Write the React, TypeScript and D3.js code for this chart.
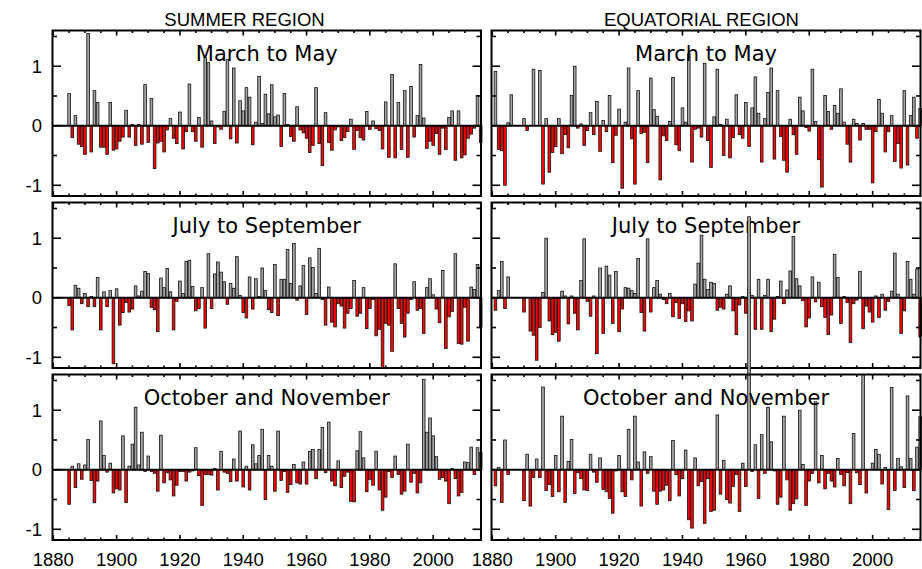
import React from 'react';
import * as d3 from 'd3';

// ---------- data ----------
const LEFT_START = 1885; // SUMMER REGION series start year (ends 2015)
const RIGHT_START = 1881; // EQUATORIAL REGION series start year (ends 2015)

const columnTitles = ['SUMMER REGION', 'EQUATORIAL REGION'];
const seasonTitles = ['March to May', 'July to September', 'October and November'];
const xTickLabels = [1880, 1900, 1920, 1940, 1960, 1980, 2000];
const yTickLabels = [-1, 0, 1];

const summerMAM: (number | null)[] = [
  0.54, -0.2, 0.17, -0.31, -0.35, -0.48, 1.55, -0.44, 0.59, 0.39,
  -0.36, -0.36, -0.48, 0.39, -0.41, -0.39, -0.26, -0.19, 0.26, -0.19,
  0.02, -0.33, 0.02, -0.31, 0.69, -0.28, 0.46, -0.72, -0.29, -0.26,
  -0.44, -0.07, 0.12, -0.21, -0.3, 0.23, -0.39, -0.1, 0.7, -0.1,
  -0.26, 0.14, -0.36, 1.14, 1.06, 0.08, -0.3, -0.02, -0.06, 0.24,
  1.11, -0.22, 0.97, -0.29, 0.42, 0.25, 0.64, 0.48, -0.32, 0.06,
  0.83, 0.04, 0.53, 0.2,
  0.69, 0.15, 0.18, -0.35, 0.54, 0.02, -0.18, -0.26, 0.32, -0.07,
  -0.12, -0.21, -0.45, -0.33, 0.64, -0.3, -0.67, 0.22, -0.28, -0.41,
  -0.07, -0.02, -0.25, -0.2, -0.1, 0.11, -0.4, -0.08, -0.2, -0.24,
  0.24, -0.06, 0.08, -0.05, -0.08, -0.39, 0.4, -0.53, 0.86, -0.54,
  0.39, -0.4, 0.59, -0.53, 0.66, -0.19, 0.17, 1.03, 0.13, -0.38,
  -0.26, -0.33, -0.13, -0.48, -0.04, -0.4, 0.14, 0.25, -0.58, 0.25,
  -0.54, -0.49, -0.21, -0.14, -0.04, 0.51, -0.28,
];

const summerJAS: (number | null)[] = [
  -0.13, -0.54, 0.21, 0.16, -0.1, 0.07, -0.15, 0.02, -0.15, 0.34,
  -0.54, 0.1, -0.15, 0.12, -1.11, 0.15, -0.46, -0.25, -0.08, -0.24,
  -0.19, 0.2, 0.03, 0.11, 0.44, 0.41, -0.16, -0.2, -0.57, 0.33,
  0.17, 0.49, 0.1, -0.54, -0.06, 0.28, 0.07, 0.61, 0.63, 0.19,
  -0.22, -0.18, 0.17, -0.51, 0.74, -0.18, 0.4, 0.6, 0.43, 0.27,
  -0.11, 0.24, 0.16, 0.69, 0.04, -0.25, -0.34, 0.35, -0.19, 0.32,
  0.02, 0.5, 0.12, -0.2,
  -0.25, 0.56, -0.3, 0.31, 0.31, 0.81, 0.24, 0.91, -0.04, 0.2,
  0.54, -0.28, 0.67, 0.51, 0.07, 0.83, -0.03, -0.46, 0.18, -0.41,
  -0.49, -0.1, -0.14, -0.51, -0.26, -0.18, 0.29, -0.31, -0.26, 0.17,
  -0.52, -0.18, -0.03, -0.64, -0.53, -1.18, -0.43, -0.46, -0.9, 0.57,
  -0.18, -0.43, -0.66, -0.26, -0.03, 0.27, -0.21, -0.18, -0.6, 0.17,
  0.32, 0.05, -0.19, -0.42, 0.46, -0.85, -0.32, -0.23, 0.74, -0.77,
  -0.78, -0.16, -0.73, 0.18, 0.14, 0.56, -0.49,
];

const summerON: (number | null)[] = [
  -0.58, 0.06, -0.3, 0.1, -0.16, 0.08, 0.51, -0.18, -0.55, -0.19,
  0.82, 0.24, -0.04, 0.11, -0.39, -0.32, -0.34, 0.57, -0.55, 0.06,
  0.43, 1.05, 0.08, 0.63, -0.03, 0.23, -0.03, -0.06, -0.36, 0.58,
  -0.22, -0.05, -0.17, -0.44, -0.26, -0.03, -0.03, -0.19, -0.04, -0.02,
  0.37, -0.1, -0.6, -0.08, -0.08, -0.09, 0.02, -0.34, 0.31, -0.04,
  -0.06, -0.2, 0.18, -0.19, 0.65, -0.29, 0.06, -0.34, 0.42, 0.1,
  0.24, 0.68, -0.5, 0.24, 0.06, -0.36, 0.65, -0.18, -0.03, -0.38,
  -0.25, 0.09, -0.22, -0.24, 0.13, -0.24, 0.31, 0.34, -0.15, 0.34,
  0.71, -0.05, 0.8, -0.19, -0.27, 0.15, -0.3, -0.11, -0.04, -0.53,
  -0.54, 0.32, 0.64, 0.2, -0.37, -0.16, -0.26, 0.31, -0.34, -0.68,
  -0.46, -0.03, -0.13, 0.23, -0.08, -0.41, -0.36, 0.43, -0.21, -0.06,
  -0.39, -0.22, 1.52, 0.63, 0.87, 0.57, 0.22, -0.16, -0.13, -0.19,
  -0.57, 0.02, -0.15, -0.44, -0.38, 0.13, 0.12, 0.38, -0.08, 0.37, 0.29,
];

const equatMAM: (number | null)[] = [
  0.91, -0.4, -0.42, -1.0, 0.05, 0.52, null, null, null, 0.12,
  -0.08, null, 0.95, null, 0.93, -0.98, 0.12, -0.78, -0.45, -0.35,
  0.12, -0.47, -0.15, -0.37, 0.51, 1.0, -0.04, 0.03, -0.33, -0.08,
  0.22, -0.15, 0.41, -0.43, 0.09, -0.1, 0.51, -0.62, -0.16, 0.28,
  -1.05, 0.06, 0.97, -0.22, -0.98, 0.59, -0.13, -0.11, -0.62, 0.8,
  0.27, 0.16, -0.91, -0.17, -0.25, 0.07, 0.81, -0.32, -0.42, 0.3,
  0.06, 1.21, -0.61, -0.06, -0.04, -0.19, 1.05,
  -0.25, -0.7, 0.15, 0.95, 0.02, -0.5, 0.11, -0.54, -0.2, 0.52,
  -0.15, -0.21, 0.39, -0.35, 0.3, 0.82, 0.21, -0.61, 0.12, 0.56,
  0.97, -0.56, 0.59, -0.18, -0.58, -0.78, 0.11, -0.15, -0.48, 0.48,
  0.25, -0.03, -0.09, 0.95, 0.07, -0.57, -1.03, 0.51, 0.24, -0.06,
  0.34, 0.21, 0.62, 0.06, -0.31, -0.61, 0.11, 0.04, -0.24, 0.04,
  -0.06, -0.06, -0.96, -0.1, 0.44, 0.21, -0.44, -0.1, 0.17, -0.6,
  -0.3, -0.71, 0.59, -0.66, 0.17, 0.48, -0.21, 0.29,
];

const equatJAS: (number | null)[] = [
  -0.21, 0.12, 0.61, -0.18, 0.35, null, null, null, null, -0.24,
  null, -0.56, -0.63, -1.05, -0.5, 0.09, 1.0, -0.39, -0.62, -0.58,
  -0.73, 0.11, 0.03, -0.44, 0.03, -0.26, -0.54, 0.29, 0.99, -0.06,
  -0.31, 0.03, -0.94, 0.5, -0.6, 0.53, 0.38, -0.43, 0.44, -0.57,
  -0.19, 0.17, 0.16, 0.12, 0.07, 0.66, -0.25, -0.56, 0.99, -0.24,
  0.17, 0.29, 0.06, -0.03, -0.1, 0.07, -0.32, -0.08, -0.35, -0.1,
  -0.4, -0.22, -0.39, 0.23, 0.58, 1.05, 0.31,
  0.14, 0.26, 0.24, -0.21, -0.16, -0.19, 0.06, 0.2, -0.22, -0.62,
  -0.12, 0.02, -0.26, 0.17, 0.04, -0.53, 0.31, -0.53, 0.04, 0.31,
  -0.57, -0.36, 0.02, 0.28, -0.1, 0.13, 0.45, 1.03, 0.32, 0.2,
  -0.05, -0.49, -0.34, 0.35, -0.07, 0.26, -0.15, -0.33, -0.62, -0.29,
  0.73, 0.34, -0.43, 0.02, -0.08, -0.75, -0.1, -0.04, 0.44, -0.52,
  -0.14, -0.24, -0.41, 0.03, -0.33, 0.06, -0.21, -0.06, 0.11, 0.75,
  0.06, -0.6, -0.22, 0.61, 0.31, 0.06, 0.48, -0.66,
];

const equatON: (number | null)[] = [
  -0.27, 0.04, -0.55, 0.5, -0.08, null, null, null, null, -0.52,
  0.26, -0.61, -0.13, 0.18, -0.13, 1.39, -0.35, -0.25, -0.45, 0.24,
  -0.37, 0.9, -0.55, 0.14, 0.51, -0.4, -0.05, -0.15, -0.34, -0.35,
  0.26, -0.04, -0.21, 0.2, -0.33, -0.37, -0.48, -0.73, -0.02, 0.24,
  -0.37, -0.45, 0.68, -0.17, 0.9, 0.13, -0.61, 0.3, -0.06, 0.22,
  -0.36, -0.58, -0.36, -0.34, -0.26, -0.52, 0.49, -0.08, -0.44, -0.15,
  0.33, -0.84, -0.98, 0.2, -0.27, -0.2, -0.9,
  -0.15, -0.7, -0.68, 0.92, -0.41, 0.16, -0.5, -0.56, -0.28, -0.08,
  -0.7, 0.11, -0.28, 4.25, -0.03, 0.42, -0.48, 0.59, -0.06, 1.05,
  0.47, -0.02, -0.58, -0.46, 0.9, -0.17, -0.68, -0.57, -0.49, 1.0,
  0.09, -0.6, -0.19, -0.06, 1.14, -0.22, 0.24, -0.32, -0.06, -0.19,
  -0.29, 0.19, -0.08, -0.27, -0.05, -0.57, 0.61, -0.05, -0.25, 1.6,
  -0.39, null, 0.11, 0.34, 0.26, -0.24, 0.04, -0.67, 1.38, -0.35,
  0.19, 0.05, -0.3, 1.24, 0.19, -0.35, 0.38, 0.89,
];

// ---------- layout ----------
const W = 922;
const H = 569;
const COLS = [
  { x0: 52.5, x1: 481, start: LEFT_START, series: [summerMAM, summerJAS, summerON] },
  { x0: 491.5, x1: 920.5, start: RIGHT_START, series: [equatMAM, equatJAS, equatON] },
];
const ROW_TOPS = [30.5, 202.5, 374.5];
const PANEL_H = 165.5;
const X_DOMAIN: [number, number] = [1879.75, 2015.1];
const Y_DOMAIN: [number, number] = [-1.18, 1.6];
const GREY = '#a3a3a3';
const RED = '#ff0000';
const TICK_FONT = '"Liberation Sans", Arial, sans-serif';
const TITLE_FONT = '"DejaVu Sans", sans-serif';

function Panel({ col, row }: { col: number; row: number }) {
  const c = COLS[col];
  const top = ROW_TOPS[row];
  const bottom = top + PANEL_H;
  const x = d3.scaleLinear().domain(X_DOMAIN).range([c.x0, c.x1]);
  const y = d3.scaleLinear().domain(Y_DOMAIN).range([bottom, top]);
  const values = c.series[row];
  const step = x(1) - x(0);
  const bw = step * 0.84;
  const y0 = y(0);

  const xTicks = d3.range(1880, 2016, 5);
  const yTicks = [-1, -0.5, 0, 0.5, 1, 1.5];

  return (
    <g>
      {values.map((v, i) => {
        if (v === null) return null;
        const yr = c.start + i;
        const yv = y(v);
        return (
          <rect
            key={i}
            x={x(yr) - bw / 2}
            y={Math.min(yv, y0)}
            width={bw}
            height={Math.abs(yv - y0)}
            fill={v >= 0 ? GREY : RED}
            stroke="#111"
            strokeWidth={0.8}
          />
        );
      })}
      <line x1={c.x0} x2={c.x1} y1={y0} y2={y0} stroke="#000" strokeWidth={2.2} />
      <rect x={c.x0} y={top} width={c.x1 - c.x0} height={PANEL_H} fill="none" stroke="#000" strokeWidth={2} />
      {xTicks.map((t) => {
        const len = t % 20 === 0 ? 5 : 2.5;
        return (
          <g key={'xt' + t}>
            <line x1={x(t)} x2={x(t)} y1={bottom} y2={bottom - len} stroke="#000" strokeWidth={1.6} />
            <line x1={x(t)} x2={x(t)} y1={top} y2={top + len} stroke="#000" strokeWidth={1.6} />
          </g>
        );
      })}
      {yTicks.map((t) => {
        const len = Number.isInteger(t) ? 8.5 : 4.5;
        return (
          <g key={'yt' + t}>
            <line x1={c.x0} x2={c.x0 + len} y1={y(t)} y2={y(t)} stroke="#000" strokeWidth={1.6} />
            <line x1={c.x1} x2={c.x1 - len} y1={y(t)} y2={y(t)} stroke="#000" strokeWidth={1.6} />
          </g>
        );
      })}
      {col === 0 &&
        yTickLabels.map((t) => (
          <text
            key={'yl' + t}
            x={42}
            y={y(t)}
            dy="0.36em"
            textAnchor="end"
            fontFamily={TICK_FONT}
            fontSize={18.5}
            fill="#000"
          >
            {t < 0 ? '-' + Math.abs(t) : String(t)}
          </text>
        ))}
      {row === 2 &&
        xTickLabels.map((t) => (
          <text
            key={'xl' + t}
            x={x(t)}
            y={566}
            textAnchor="middle"
            fontFamily={TICK_FONT}
            fontSize={18.5}
            fill="#000"
          >
            {t}
          </text>
        ))}
      <text
        x={(c.x0 + c.x1) / 2}
        y={top + 30.8}
        textAnchor="middle"
        fontFamily={TITLE_FONT}
        fontSize={21}
        fill="#000"
      >
        {seasonTitles[row]}
      </text>
    </g>
  );
}

export default function App() {
  const headerX = [244.5, 701.5];
  return (
    <svg
      width={W}
      height={H}
      viewBox={`0 0 ${W} ${H}`}
      style={{ position: 'absolute', left: 0, top: 0, display: 'block', background: '#fff' }}
    >
      <rect x={0} y={0} width={W} height={H} fill="#fff" />
      {columnTitles.map((t, i) => (
        <text
          key={t}
          x={headerX[i]}
          y={26}
          textAnchor="middle"
          fontFamily={TICK_FONT}
          fontSize={18.5}
          fill="#000"
        >
          {t}
        </text>
      ))}
      {[0, 1, 2].map((r) =>
        [0, 1].map((cIdx) => <Panel key={r + '-' + cIdx} col={cIdx} row={r} />)
      )}
    </svg>
  );
}
